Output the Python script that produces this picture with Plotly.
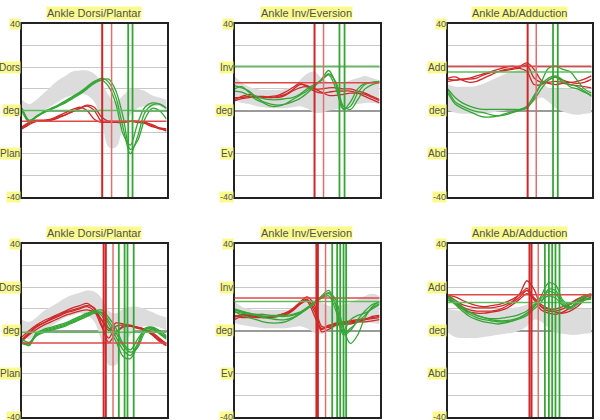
import plotly.graph_objects as go

# % of gait cycle, sampled every 5 %
pct = [0, 5, 10, 15, 20, 25, 30, 35, 40, 45, 50, 55, 60, 65, 70, 75, 80, 85, 90, 95, 100]

titles = ["Ankle Dorsi/Plantar", "Ankle Inv/Eversion", "Ankle Ab/Adduction"]
pos_labels = ["Dors", "Inv", "Add"]
neg_labels = ["Plan", "Ev", "Abd"]

# ---- top row : dorsi / plantar ----
p1_band_hi = [5, 3, 5, 8, 11, 14, 16, 18, 18.5, 18.5, 17, 13, 7, 4, 7, 10, 10, 9, 7, 6, 5]
p1_band_lo = [-2, -4, -2, 0, 2, 4, 6, 7, 8, 7, 4, -5, -17, -17, -8, -2, 1, 2, 2, 2, 0]
p1_red = [
    [-8, -6, -5, -5, -4.5, -3, -2, -0.5, 1, 2, 0, -5, -5.5, -5.5, -5.5, -5, -5, -5.5, -7, -8.5, -9],
    [-7.5, -5.5, -4.5, -4.5, -4, -2.5, -1, 0.5, 1.5, 0, -4, -5.5, -5, -5, -5, -5, -5.5, -6, -7.5, -8, -8.5],
    [-8.5, -6.5, -5, -5, -4.5, -3.5, -2, -0.5, 1, 2.5, 1.5, -3, -5, -5.5, -5.5, -5, -5, -5.5, -6.5, -8, -9.5],
]
p1_green = [
    [1, -5, -3, -1, 0.5, 2, 4, 6, 8, 10.5, 13, 15, 13, 6, -8, -20, -12, -1, 2.5, 3, 1],
    [0, -5.5, -3, -1, 0.5, 2, 3.5, 5.5, 7.5, 10, 12.5, 14, 14.5, 9, -3, -18, -14, -4, 1, 0, -4],
    [1, -4.5, -2.5, -0.5, 1, 2.5, 4.5, 6.5, 8.5, 11, 13.5, 14, 11, 3, -11, -16, -6, 1.5, 3.5, 3, 1],
]
p1_red_events = [55.5, 62]
p1_green_events = [73.5, 76.5]
p1_red_level = -5
p1_green_level = 0

# ---- top row : inversion / eversion ----
p2_band_hi = [16, 13, 11, 10, 9.5, 9.5, 9.5, 10, 11, 14, 17, 18, 15, 13, 12, 13, 14, 15, 16, 15, 14]
p2_band_lo = [5, 3.5, 3, 2, 1.5, 1, 1, 1, 1.5, 2, 1, -1, -1, 0, 0.5, 1.5, 2.5, 3, 3.5, 3.5, 3]
p2_red = [
    [5, 6.5, 7.5, 6.5, 6, 6, 6.5, 7.5, 9.5, 12, 11.5, 10, 10, 10.5, 10.5, 10, 10, 9, 8, 6.5, 5],
    [6, 6, 6.5, 6, 6, 6.5, 7, 8.5, 10.5, 12.5, 11, 9, 8, 8.5, 9, 9, 9, 8, 6.5, 5, 3.5],
    [4.5, 5.5, 6, 6.5, 6.5, 6, 6, 7, 9, 10.5, 11, 10, 8.5, 7, 7, 7.5, 8, 8, 7.5, 6, 4.5],
]
p2_green = [
    [11.5, 10.5, 9, 6, 4, 3, 2.5, 3, 4, 5.5, 8, 11, 14.5, 18.5, 12, 1, 2, 8, 12, 13, 13.5],
    [10, 11, 8.5, 6.5, 5.5, 5, 5, 5.5, 6, 7.5, 10, 12, 14, 16.5, 10, 0.5, 4, 10, 12.5, 13, 13.5],
    [9, 8.5, 7, 5, 3.5, 2, 2, 3, 5, 7, 9, 11.5, 14, 17, 13, 2, 0.5, 5, 10, 12, 13],
]
p2_red_events = [55.2, 61.4]
p2_green_events = [72.4, 75.9]
p2_red_level = 12.8
p2_green_level = 20.5

# ---- top row : ab / adduction ----
p3_band_hi = [12, 11, 11, 11, 11.5, 12.5, 14, 15.5, 17, 18, 19, 20, 20, 14, 10.5, 10, 10, 10, 9.5, 9.5, 9.5]
p3_band_lo = [0, -1, -1.5, -1.5, -1.5, -1.5, -1, -0.5, 0, 0.5, 1, 2, 4, 6, 4, 1, -0.5, -1.5, -2, -1.5, -1]
p3_red = [
    [14.5, 14, 14.5, 15, 16, 17, 18, 19, 20, 20.5, 20, 21, 15, 13, 13, 13.5, 13, 13, 13.5, 14.5, 16],
    [15, 15.5, 14, 13, 13.5, 15, 16.5, 18, 19, 19.5, 20.5, 22, 19, 14, 12.5, 12, 12.5, 12, 11.5, 11, 10.5],
    [13.5, 14, 14.5, 14.5, 15, 16.5, 17.5, 18, 18.5, 19, 19.5, 18, 12, 12, 14, 15.5, 14, 13, 12.5, 13, 14.5],
]
p3_green = [
    [10, 6, 3.5, 2, 1, 0.5, 0.5, 0.5, 0.5, 0.5, 0.5, 1, 6, 13, 19.5, 20.5, 19, 18, 14, 10, 8],
    [8, 3, 1, -0.5, -2, -3, -3, -2.5, -1.5, -0.5, 0.5, 2, 7, 12, 15, 16, 14, 11, 10, 8.5, 7],
    [9.5, 4, 2, 0.5, -0.5, -1, -2, -2.5, -2, -1, 0, 1.5, 5, 10, 14, 15.5, 13, 12, 11, 9, 6.5],
]
p3_red_events = [55.5, 61.5]
p3_green_events = [73.2, 76.5]
p3_red_level = 20.5
p3_green_level = 17.8

# ---- bottom row : dorsi / plantar ----
p4_band_hi = [5, 4, 6, 9, 11, 13, 15, 16.5, 17.5, 18.5, 18, 15, 9, 8, 10, 11, 11, 10, 8.5, 7, 6]
p4_band_lo = [-2, -4, -2, 0, 2, 4, 6, 7, 8, 7, 4, -5, -16, -16, -8, -2, 1, 2, 2, 1.5, 0]
p4_red = [
    [-4, -1, 2, 3.5, 5, 6.5, 8, 9, 10, 11, 9, 2, -3.5, 2, 2.5, 2, 1.5, 0.5, -1.5, -4, -6],
    [-3, 0, 2.5, 4.5, 6, 7.5, 9, 10.5, 11.5, 12.5, 10, 5, 0, 3.5, 3, 2.5, 1.5, 0.5, -1, -3.5, -6.5],
    [-5, -2, 0.5, 2.5, 4, 5.5, 7, 8, 9, 9.5, 8.5, 5, 1, -0.5, 1.5, 2, 1.5, 0.5, -2, -4.5, -7],
    [-4.5, -1.5, 1.5, 3.5, 5.5, 7, 8.5, 9.5, 10.5, 11.5, 10.5, 3, -5.5, -1, 2, 2, 1, 0, -2, -5, -7],
]
p4_green = [
    [-6, -6.5, -2, -0.5, 0.5, 1.5, 2.5, 4, 5.5, 7, 8.5, 8, 3, -3, -9, -11.5, -6, 1, 1.5, -1, -3.5],
    [-5, -7, -1, 0, 1, 2, 3, 4.5, 6, 7.5, 9, 9.5, 6, 1, -6, -9, -4, 0.5, 1.5, 0, -2.5],
    [-4, -5.5, -1.5, 0.5, 1.5, 2.5, 3.5, 5, 6.5, 8, 9, 7, 1, -5, -12, -13, -7, 0, 1, -1.5, -4],
    [-5.5, -6, -2.5, -1, 0, 1, 2, 3.5, 5, 6.5, 8, 8.5, 4.5, -1, -7, -10, -8, -1, 0.5, -1, -3],
]
p4_red_events = [56.5, 58, 63]
p4_green_events = [67, 71, 73, 77.3]
p4_red_level = -5.8
p4_green_level = -0.8

# ---- bottom row : inversion / eversion ----
p5_band_hi = [13.5, 11, 10, 9.5, 9.5, 9.5, 9.5, 9.5, 10, 11.5, 13.5, 14.5, 13, 11.5, 11, 12, 13, 14.5, 16, 17, 16]
p5_band_lo = [3.5, 2.5, 2, 1.5, 1, 1, 1, 1, 1.5, 2, 1, -1, -1.5, 0, 1.5, 2.5, 3, 3.5, 3.5, 3.5, 3]
p5_red = [
    [6, 7.5, 6.5, 6, 6, 6.5, 6.5, 7.5, 9.5, 12.5, 14.5, 9, 1, 2.5, 3, 3.5, 4, 4.5, 5, 5.5, 6],
    [5, 6.5, 7, 6.5, 6.5, 6.5, 7, 8, 10, 13, 15.5, 12, 2, 1.5, 2.5, 3, 3.5, 4, 4, 4.5, 5],
    [7, 6, 6, 6.5, 6, 6, 6.5, 7, 9, 12, 14, 10.5, -0.5, 0.5, 2.5, 3, 3, 4, 5, 6.5, 7],
    [6.5, 7, 7.5, 7, 6.5, 6.5, 7, 8, 9.5, 12, 13.5, 7, 0.5, 2, 3.5, 4, 4.5, 5, 5.5, 6, 6.5],
]
p5_green = [
    [9.5, 8.5, 8, 7.5, 7.5, 7, 7, 7, 7.5, 8.5, 10.5, 13, 16, 18.5, 11, -2, 0, 5, 9, 12, 13],
    [9, 7, 6, 5, 4, 3.5, 3.5, 4, 5.5, 7.5, 10, 12.5, 15.5, 17.5, 14, 1, -6, -2, 6, 11, 13.5],
    [8.5, 8, 7.5, 7, 6.5, 6.5, 6.5, 6.5, 7, 8, 10, 12.5, 15, 17, 12, 0, 5, 7, 8, 10, 12],
    [10, 9, 8, 7, 6, 5.5, 5, 5, 6, 8, 10.5, 13, 15, 16, 9, -1, 1, 4, 7, 10.5, 12.5],
]
p5_red_events = [56.5, 57.5, 62.8]
p5_green_events = [67.4, 70.8, 72.9, 75.2, 77]
p5_red_level = 15
p5_green_level = 13.4

# ---- bottom row : ab / adduction ----
p6_band_hi = [10, 9.5, 9, 9, 9, 9, 9, 9.5, 10, 10.5, 11, 12, 13, 12, 10.5, 10, 10, 10, 10, 10, 10]
p6_band_lo = [-1, -3, -3.5, -3.5, -3.5, -3, -2.5, -2, -1.5, -1, 0, 2, 5, 4, 1, -1, -1.5, -2, -2, -1.5, -1]
p6_red = [
    [16, 14, 12, 11, 10.5, 10.5, 10.5, 11, 12, 13.5, 17, 23, 19, 11, 9, 9, 10, 12, 14, 16, 16],
    [15, 13, 11, 9.5, 9, 9, 9, 9.5, 11, 13, 15.5, 18.5, 14, 9.5, 8, 7.5, 8.5, 10.5, 13, 15, 16.5],
    [15.5, 12.5, 10, 8.5, 8, 8, 8.5, 9, 10, 12, 14.5, 17, 15, 12, 10, 8.5, 8, 9, 11, 14, 15.5],
    [16.5, 15.5, 14, 12.5, 11.5, 11, 11.5, 12, 13, 14.5, 16.5, 19.5, 15, 11, 10, 10, 11, 12.5, 14.5, 16, 17],
]
p6_green = [
    [16.5, 14, 11, 8.5, 7, 6, 5, 4.5, 4.5, 5, 6, 8, 11, 16, 22, 21, 14, 12, 14, 16, 16],
    [15, 12, 9, 6.5, 5, 4, 3.5, 3, 3.5, 4.5, 6, 8, 11, 15, 18, 17, 12, 10.5, 13, 15.5, 16.5],
    [14, 12.5, 10.5, 8.5, 7, 6, 5.5, 5.5, 6, 6.5, 7.5, 9, 12, 14, 16, 15, 11.5, 10, 12, 14.5, 15],
    [15.5, 13, 10, 7.5, 6, 5, 4.5, 4, 4, 4.5, 5.5, 7, 10, 13, 19, 18.5, 13, 11, 12.5, 14, 14.5],
]
p6_red_events = [56.8, 58.2, 62.9]
p6_green_events = [67.5, 70.3, 72.6, 74.9, 77.7]
p6_red_level = 16.5
p6_green_level = 13

panels = [
    (p1_band_hi, p1_band_lo, p1_red, p1_green, p1_red_events, p1_green_events, p1_red_level, p1_green_level),
    (p2_band_hi, p2_band_lo, p2_red, p2_green, p2_red_events, p2_green_events, p2_red_level, p2_green_level),
    (p3_band_hi, p3_band_lo, p3_red, p3_green, p3_red_events, p3_green_events, p3_red_level, p3_green_level),
    (p4_band_hi, p4_band_lo, p4_red, p4_green, p4_red_events, p4_green_events, p4_red_level, p4_green_level),
    (p5_band_hi, p5_band_lo, p5_red, p5_green, p5_red_events, p5_green_events, p5_red_level, p5_green_level),
    (p6_band_hi, p6_band_lo, p6_red, p6_green, p6_red_events, p6_green_events, p6_red_level, p6_green_level),
]

W, H = 600, 420
col_px = [(22, 166.5), (234.5, 379.5), (448, 591.5)]
row_px = [(24, 197), (244, 417)]
title_px = [13, 233]

RED = "#d02828"
RED_LIGHT = "#e07070"
GREEN = "#35a635"
BAND = "#dcdcdc"
LABEL_BG = "#fbfb8c"
FONT = "Liberation Sans, Arial"

fig = go.Figure()
layout = {}
shapes = []
annotations = []

for i, (hi, lo, reds, greens, rev, gev, rlev, glev) in enumerate(panels):
    r, c = divmod(i, 3)
    n = "" if i == 0 else str(i + 1)
    xa, ya = "x" + n, "y" + n
    x0, x1 = col_px[c][0] / W, col_px[c][1] / W
    y0, y1 = 1 - row_px[r][1] / H, 1 - row_px[r][0] / H

    fig.add_trace(go.Scatter(x=pct, y=hi, mode="lines", line=dict(width=0, shape="spline"),
                             xaxis=xa, yaxis=ya, hoverinfo="skip"))
    fig.add_trace(go.Scatter(x=pct, y=lo, mode="lines", line=dict(width=0, shape="spline"),
                             fill="tonexty", fillcolor=BAND, xaxis=xa, yaxis=ya, hoverinfo="skip"))
    for tr in reds:
        fig.add_trace(go.Scatter(x=pct, y=tr, mode="lines",
                                 line=dict(color=RED, width=1.3, shape="spline", smoothing=0.9),
                                 xaxis=xa, yaxis=ya))
    for tr in greens:
        fig.add_trace(go.Scatter(x=pct, y=tr, mode="lines",
                                 line=dict(color=GREEN, width=1.3, shape="spline", smoothing=0.9),
                                 xaxis=xa, yaxis=ya))

    # level lines and event lines
    shapes.append(dict(type="line", xref=xa + " domain", yref=ya, x0=0, x1=1, y0=rlev, y1=rlev,
                       line=dict(color="#e04848", width=1.5)))
    shapes.append(dict(type="line", xref=xa + " domain", yref=ya, x0=0, x1=1, y0=glev, y1=glev,
                       line=dict(color="#5cbf5c", width=1.5)))
    for k, ev in enumerate(rev):
        last = k == len(rev) - 1
        shapes.append(dict(type="line", xref=xa, yref=ya + " domain", x0=ev, x1=ev, y0=0, y1=1,
                           line=dict(color=RED_LIGHT if last else RED, width=1.5 if last else 2)))
    for ev in gev:
        shapes.append(dict(type="line", xref=xa, yref=ya + " domain", x0=ev, x1=ev, y0=0, y1=1,
                           line=dict(color=GREEN, width=1.8)))

    layout["xaxis" + n] = dict(domain=[x0, x1], range=[0, 100], anchor=ya, showgrid=False,
                               showticklabels=False, ticks="", zeroline=False,
                               showline=True, mirror=True, linecolor="#222", linewidth=2)
    layout["yaxis" + n] = dict(domain=[y0, y1], range=[-40, 40], anchor=xa, dtick=10,
                               showticklabels=False, ticks="", gridcolor="#c8c8c8", gridwidth=1,
                               zeroline=True, zerolinecolor="#9a9a9a", zerolinewidth=1.5,
                               showline=True, mirror=True, linecolor="#222", linewidth=2)

    # title
    annotations.append(dict(text=titles[c], x=(x0 + x1) / 2, y=1 - title_px[r] / H,
                            xref="paper", yref="paper", xanchor="center", yanchor="middle",
                            showarrow=False, bgcolor=LABEL_BG, borderpad=0,
                            font=dict(family=FONT, size=11, color="#505050")))
    # y labels
    for val, lab in zip([40, 20, 0, -20, -40], ["40", pos_labels[c], "deg", neg_labels[c], "-40"]):
        annotations.append(dict(text=lab, x=x0 - 1 / W, y=val, xref="paper", yref=ya,
                                xanchor="right", yanchor="middle", showarrow=False,
                                bgcolor=LABEL_BG, borderpad=0,
                                font=dict(family=FONT, size=10 if abs(val) < 40 else 9,
                                          color="#505050")))

fig.update_layout(**layout)
fig.update_layout(width=W, height=H, margin=dict(l=0, r=0, t=0, b=0),
                  paper_bgcolor="white", plot_bgcolor="white", showlegend=False,
                  shapes=shapes, annotations=annotations)
fig.write_html("out.html", config={"displayModeBar": False},
               post_script="document.body.style.margin='0';")
